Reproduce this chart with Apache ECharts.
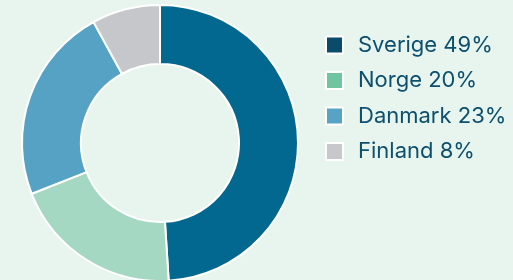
<!DOCTYPE html>
<html>
<head>
<meta charset="utf-8">
<script src="https://cdn.jsdelivr.net/npm/echarts@6/dist/echarts.min.js"></script>
<style>
  html, body { margin: 0; padding: 0; background: #e7f5ee; }
  #chart { width: 513px; height: 280px; }
</style>
</head>
<body>
<div id="chart"></div>
<script>
// data
const countries = ['Sverige', 'Norge', 'Danmark', 'Finland']
const shares = [49, 20, 23, 8]
const sliceColors = ['#03688f', '#a4d8c2', '#55a2c4', '#c6c7ca']
const legendColors = ['#0a4b6c', '#70c5a1', '#57a3c5', '#c8c8cc']

const chart = echarts.init(document.getElementById('chart'))
chart.setOption({
    backgroundColor: '#e7f5ee',
    animation: false,
    legend: {
        orient: 'vertical',
        left: 320,
        top: 29,
        itemWidth: 17,
        itemHeight: 17,
        itemGap: 13.5,
        icon: 'rect',
        textStyle: {
            fontFamily: 'Inter',
            fontSize: 22,
            color: '#0d4f6e',
            padding: [0, 0, 0, 10]
        },
        formatter: name => name + ' ' + shares[countries.indexOf(name)] + '%',
        data: countries.map((c, i) => ({ name: c, itemStyle: { color: legendColors[i] } }))
    },
    series: [{
        type: 'pie',
        center: [160, 143],
        radius: [79, 138],
        startAngle: 90,
        clockwise: true,
        label: { show: false },
        labelLine: { show: false },
        emphasis: { disabled: true },
        itemStyle: { borderColor: '#ffffff', borderWidth: 2 },
        data: countries.map((c, i) => ({ name: c, value: shares[i], itemStyle: { color: sliceColors[i] } }))
    }]
})
</script>
</body>
</html>
